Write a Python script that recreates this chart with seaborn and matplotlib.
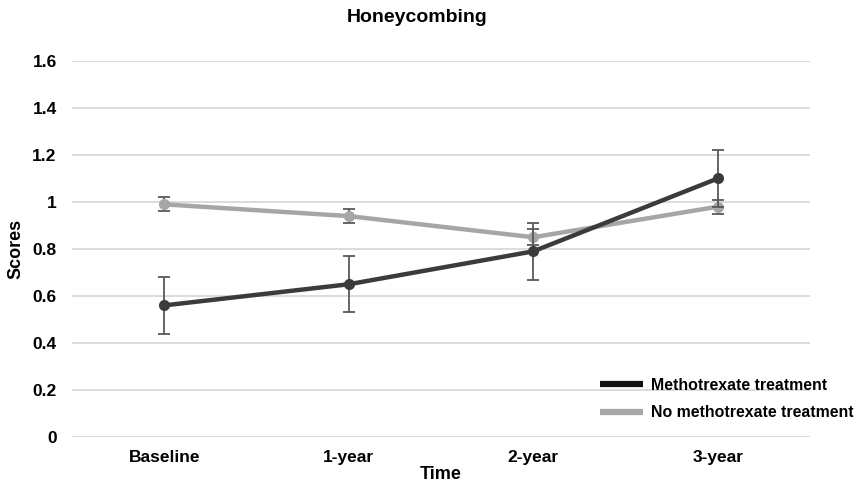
import matplotlib
matplotlib.use("Agg")
import matplotlib.pyplot as plt
import seaborn as sns
import pandas as pd
from matplotlib.lines import Line2D

categories = ["Baseline", "1-year", "2-year", "3-year"]
mtx_values = [0.56, 0.65, 0.79, 1.10]
mtx_errors = [0.12, 0.12, 0.12, 0.12]
no_mtx_values = [0.99, 0.94, 0.85, 0.98]
no_mtx_errors = [0.03, 0.03, 0.035, 0.03]
series_names = ["Methotrexate treatment", "No methotrexate treatment"]
yticks = [0, 0.2, 0.4, 0.6, 0.8, 1.0, 1.2, 1.4, 1.6]
ytick_labels = ["0", "0.2", "0.4", "0.6", "0.8", "1", "1.2", "1.4", "1.6"]

sns.set_theme(style="white")
plt.rcParams["font.family"] = ["Liberation Sans", "DejaVu Sans"]
plt.rcParams["font.weight"] = "bold"
plt.rcParams["text.color"] = "black"
plt.rcParams["xtick.color"] = "black"
plt.rcParams["ytick.color"] = "black"
plt.rcParams["axes.labelcolor"] = "black"

df = pd.DataFrame({
    "Time": list(range(len(categories))) * 2,
    "Scores": mtx_values + no_mtx_values,
    "err": mtx_errors + no_mtx_errors,
    "Group": [series_names[0]] * 4 + [series_names[1]] * 4,
})

fig = plt.figure(figsize=(8.61, 4.86), dpi=100)
ax = fig.add_axes([72/861, 49/486, 738/861, 376/486])

colors = {series_names[0]: "#3b3b3b", series_names[1]: "#a6a6a6"}
for name, z in [(series_names[1], 3), (series_names[0], 4)]:
    sub = df[df["Group"] == name]
    ax.errorbar(sub["Time"], sub["Scores"], yerr=sub["err"], fmt="none",
                ecolor="#595959", elinewidth=1.3, capsize=4, capthick=1.3, zorder=z)
    sns.lineplot(data=sub, x="Time", y="Scores", color=colors[name], linewidth=3.2,
                 marker="o", markersize=8, markeredgewidth=0, ax=ax, zorder=z + 0.5,
                 legend=False)

ax.set_xlim(-0.5, 3.5)
ax.set_ylim(0, 1.6)
ax.set_yticks(yticks)
ax.set_yticklabels(ytick_labels)
ax.set_xticks(range(len(categories)))
ax.set_xticklabels(categories)
ax.tick_params(axis="both", length=0, labelsize=12.5)
ax.tick_params(axis="y", pad=11)
ax.tick_params(axis="x", pad=9)
for lab in ax.get_xticklabels() + ax.get_yticklabels():
    lab.set_fontweight("bold")
ax.grid(axis="y", color="#d9d9d9", linewidth=1.3)
ax.set_axisbelow(True)
for s in ax.spines.values():
    s.set_visible(False)

fig.text(417/861, 1 - 18/486, "Honeycombing", fontsize=14, fontweight="bold",
         ha="center", va="center")
ax.set_xlabel("Time", fontsize=13, fontweight="bold", labelpad=1)
ax.set_ylabel("Scores", fontsize=13, fontweight="bold", labelpad=6)

handles = [Line2D([0], [0], color="#111111", linewidth=4.5, solid_capstyle="butt"),
           Line2D([0], [0], color="#a6a6a6", linewidth=4.5, solid_capstyle="butt")]
leg = ax.legend(handles, series_names, loc="lower right", bbox_to_anchor=(1.078, 0.006),
                frameon=False, prop={"weight": "bold", "size": 11.4},
                handlelength=2.7, handletextpad=0.5, labelspacing=0.8)

fig.savefig("out.png", dpi=100)
